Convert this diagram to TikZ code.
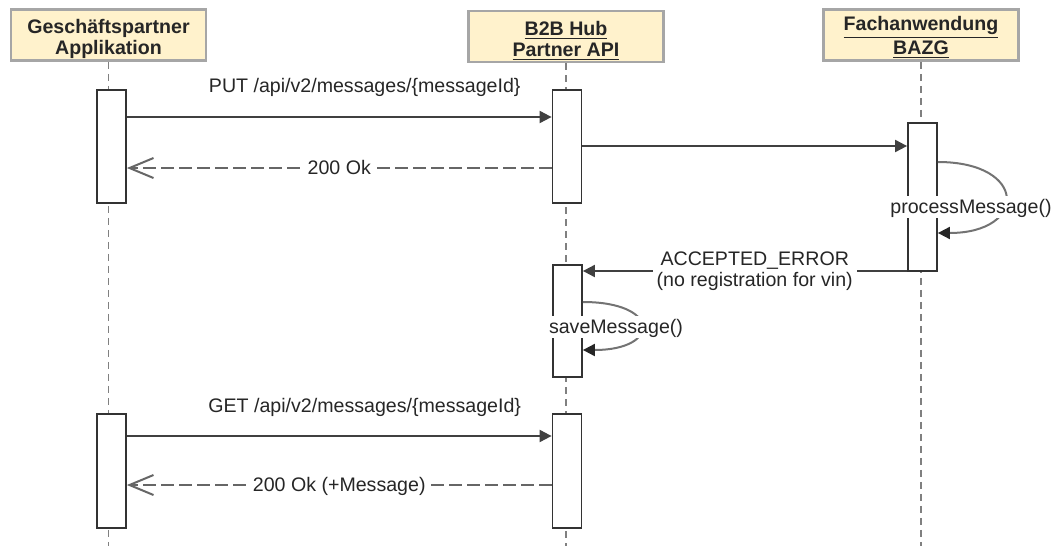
\documentclass[tikz,border=0pt]{standalone}
\usepackage{fontspec}
\setmainfont{Liberation Sans}
\usepackage{tikz}
\usetikzlibrary{arrows.meta,calc}
\definecolor{headfill}{HTML}{FFF2CC}
\definecolor{headframe}{HTML}{A6A6A6}
\newcommand{\colorTikzHead}{headfill}
\newcommand{\colorTikzFrame}{headframe}
\newcommand{\colorTikzText}{black!85}

\begin{document}
\begin{tikzpicture}[x=0.5pt, y=-0.5pt,
        font=\fontsize{9.8}{10.5}\selectfont,
        headbox/.style={draw=\colorTikzFrame, line width=1.4pt, fill=\colorTikzHead, minimum width=97.5pt, minimum height=25.5pt, align=center, font=\fontsize{9.8}{10.5}\selectfont\bfseries, text=\colorTikzText, inner sep=0pt, text height=19.5pt, text depth=0pt},
        lifeline/.style={draw=black!50, line width=0.8pt, dash pattern=on 3.5pt off 2.5pt},
        actbox/.style={draw=black!80, fill=white, line width=0.9pt, minimum width=14.5pt, inner sep=0pt},
        msg/.style={draw=black!75, line width=1pt, -{Triangle[length=6pt,width=6pt]}},
        reply/.style={draw=black!60, line width=1pt, dash pattern=on 6.5pt off 2.5pt, -{Straight Barb[length=12pt,width=10pt]}},
        selfcall/.style={draw=black!55, line width=1pt, -{Triangle[length=6pt,width=6pt,color=black!85]}},
        txt/.style={text=\colorTikzText, inner sep=1pt},
        inline/.style={txt, fill=white, inner sep=2pt, text height=6.9pt, text depth=0pt}]

        \useasboundingbox (0,0) rectangle (1055,546);

        \node[headbox] (headA) at (108.5,35) {Geschäftspartner\\Applikation};
        \node[headbox] (headB) at (566,36.5) {\underline{B2B Hub}\\\underline{Partner API}};
        \node[headbox] (headC) at (921,35) {\underline{Fachanwendung}\\\underline{BAZG}};

        \coordinate (endA) at (108.5,546);
        \coordinate (endB) at (566,546);
        \coordinate (endC) at (921,546);
        \draw[lifeline] (headA) -- (endA);
        \draw[lifeline] (headB) -- (endB);
        \draw[lifeline] (headC) -- (endC);

        \node[actbox, minimum height=56.5pt] (actA1) at (111.5,146.5) {};
        \node[actbox, minimum height=56.5pt] (actB1) at (567,146.5) {};
        \node[actbox, minimum height=74pt] (actC1) at (922.5,197) {};
        \node[actbox, minimum height=56pt] (actB2) at (567.5,321) {};
        \node[actbox, minimum height=57pt] (actA2) at (111.5,471) {};
        \node[actbox, minimum height=57pt] (actB3) at (567,471) {};

        \draw[msg] (actA1.east |- 0,117) -- (actB1.west |- 0,117)
            node[txt, pos=0.56, anchor=base, yshift=12.5pt] (putText) {PUT /api/v2/messages/\{messageId\}};
        \draw[reply] (actB1.west |- 0,168) -- (actA1.east |- 0,168)
            node[inline, midway] (okText) {200 Ok};
        \draw[msg] (actB1.east |- 0,146) -- (actC1.west |- 0,146);

        \draw[selfcall] (actC1.east |- 0,162) .. controls +(90,0) and +(90,0) .. (actC1.east |- 0,233);
        \node[inline] (procText) at (971,207) {processMessage()};

        \draw[msg] (actC1.west |- 0,271) -- (actB2.east |- 0,271)
            node[txt, fill=white, pos=0.47, align=center, inner sep=2pt] (errText) {ACCEPTED\_ERROR\\(no registration for vin)};

        \draw[selfcall] (actB2.east |- 0,302) .. controls +(78,0) and +(78,0) .. (actB2.east |- 0,350);
        \node[inline] (saveText) at (616,327) {saveMessage()};

        \draw[msg] (actA2.east |- 0,436) -- (actB3.west |- 0,436)
            node[txt, pos=0.56, anchor=base, yshift=12pt] (getText) {GET /api/v2/messages/\{messageId\}};
        \draw[reply] (actB3.west |- 0,485) -- (actA2.east |- 0,485)
            node[inline, midway] (okMsgText) {200 Ok (+Message)};

      \end{tikzpicture}
\end{document}
